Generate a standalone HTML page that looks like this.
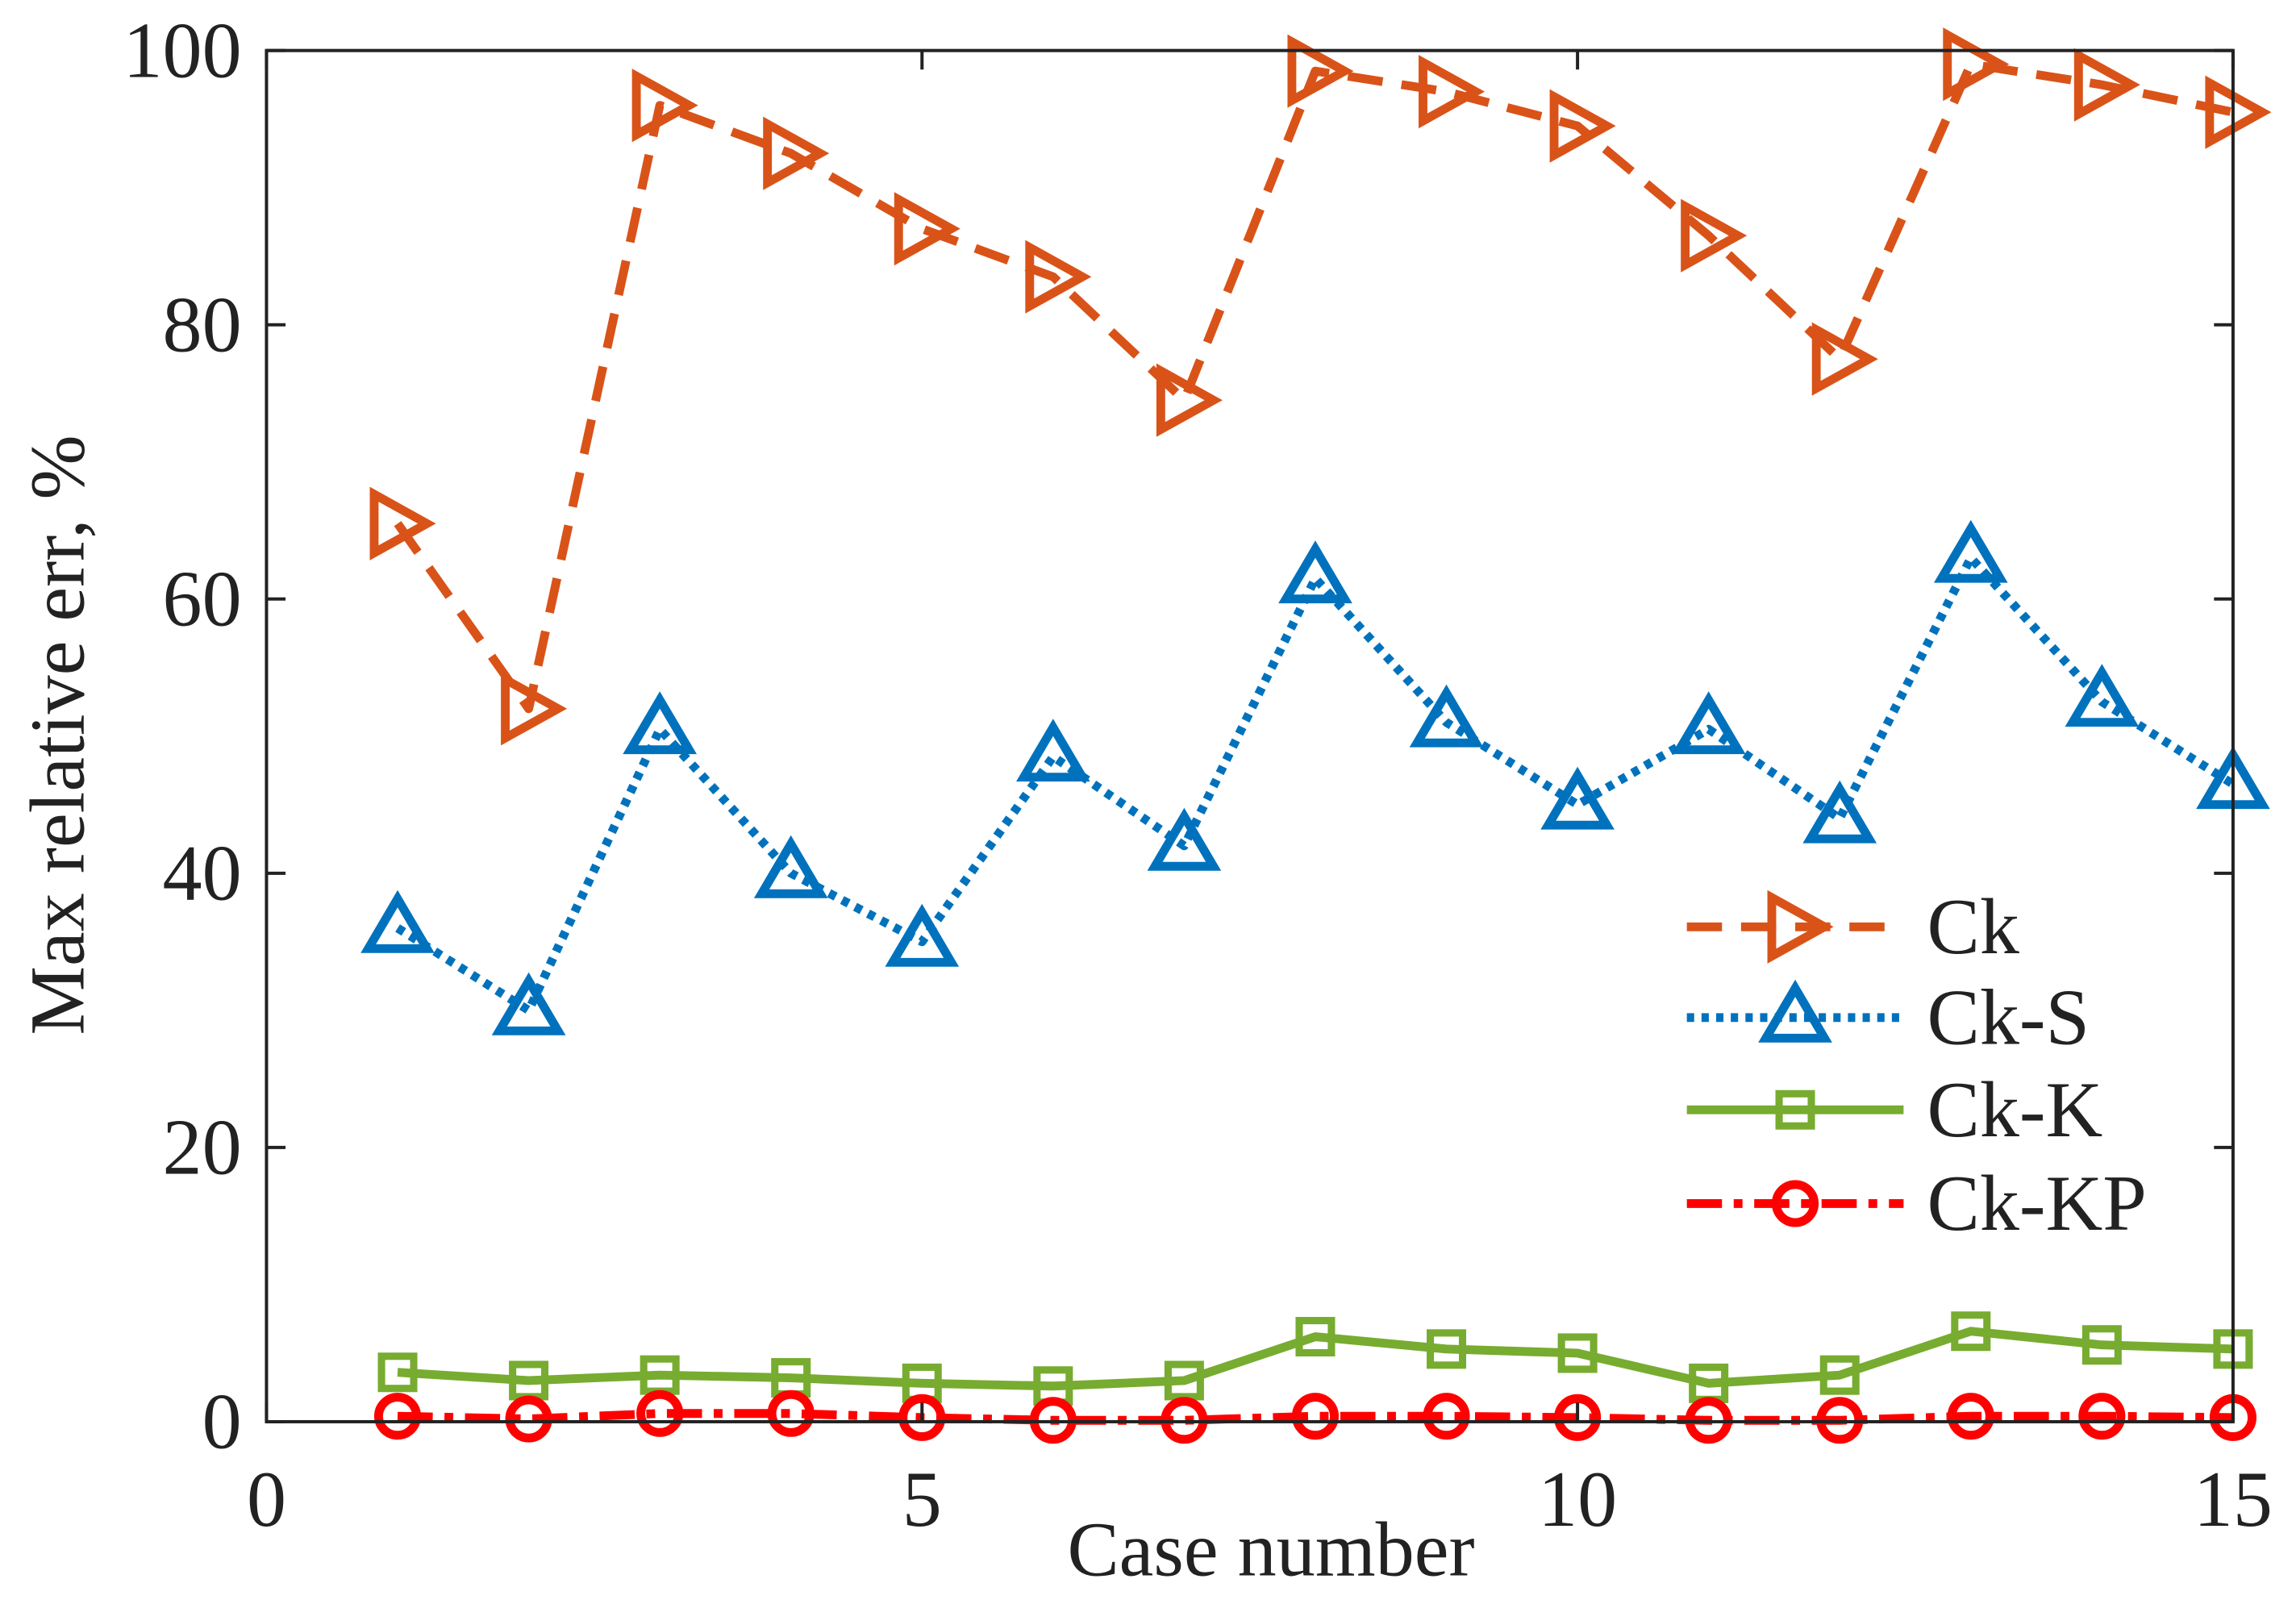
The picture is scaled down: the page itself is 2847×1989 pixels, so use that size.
<!DOCTYPE html>
<html><head><meta charset="utf-8"><style>
html,body{margin:0;padding:0;background:#fff;}
svg{display:block;}
text{font-family:"Liberation Serif",serif;fill:#222;}
</style></head><body>
<svg id="chart" width="2847" height="1989" viewBox="0 0 1568 1095.5" preserveAspectRatio="none" xmlns="http://www.w3.org/2000/svg">
<g id="marks"></g>
<g id="axes"></g>
<g id="legend"></g>
</svg>
<script>
const cases=[1,2,3,4,5,6,7,8,9,10,11,12,13,14,15];
const ck=[65.5,52,96,92.5,87,83.5,74.5,98.5,97,94.5,86.5,77.5,99,97.5,95.5];
const ckS=[36,30,50.5,40,35,48.5,42,61.5,51,45,50.5,44,63,52.5,46.5];
const ckK=[3.6,3,3.4,3.2,2.8,2.6,3,6.2,5.3,5,2.8,3.4,6.6,5.6,5.3];
const ckKP=[0.4,0.2,0.6,0.6,0.3,0.1,0.1,0.4,0.4,0.3,0.1,0.1,0.4,0.4,0.3];
const xTicks=[0,5,10,15];
const yTicks=[0,20,40,60,80,100];
const seriesNames=["Ck","Ck-S","Ck-K","Ck-KP"];

const NS="http://www.w3.org/2000/svg";
const L=182,R=1525,T=34.5,B=971;
const xs=v=>L+(v-0)/(15-0)*(R-L);
const ys=v=>B-(v-0)/(100-0)*(B-T);
function mk(tag,attrs,parent){const e=document.createElementNS(NS,tag);for(const k in attrs)e.setAttribute(k,attrs[k]);parent.appendChild(e);return e;}
const marks=document.getElementById('marks'),axes=document.getElementById('axes'),legend=document.getElementById('legend');

const styles=[
 {data:ck,color:"#D95319",dash:"24 13",marker:"tri-right",name:"ck"},
 {data:ckS,color:"#0072BD",dash:"5 5",marker:"tri-up",name:"ck-s"},
 {data:ckK,color:"#77AC30",dash:"",marker:"square",name:"ck-k"},
 {data:ckKP,color:"#FF0000",dash:"24 8 6 8",marker:"circle",name:"ck-kp"}
];
function marker(type,x,y,color,parent){
 let e;
 if(type==="tri-right") e=mk('polygon',{points:`${x-16},${y-20} ${x+20},${y} ${x-16},${y+20}`},parent);
 else if(type==="tri-up") e=mk('polygon',{points:`${x},${y-20} ${x+20},${y+14} ${x-20},${y+14}`},parent);
 else if(type==="square") e=mk('rect',{x:x-11,y:y-11,width:22,height:22},parent);
 else e=mk('circle',{cx:x,cy:y,r:13},parent);
 e.setAttribute('fill','none');e.setAttribute('stroke',color);e.setAttribute('stroke-width',type==="square"?5:6);
 return e;
}
[2,3,1,0].forEach(i=>{
 const s=styles[i];
 const g=mk('g',{},marks);
 
 
 const pts=s.data.map((v,j)=>xs(cases[j])+","+ys(v)).join(" ");
 const pl=mk('polyline',{points:pts,fill:'none',stroke:s.color,'stroke-width':6,'stroke-dasharray':s.dash,'stroke-linejoin':'round'},g);
 
 
 s.data.forEach((v,j)=>{
  const m=marker(s.marker,xs(cases[j]),ys(v),s.color,g);
  
  
 });
});
const box=mk('rect',{x:L,y:T,width:R-L,height:B-T,fill:'none',stroke:'#222','stroke-width':2.2},axes);


xTicks.forEach(t=>{
 const x=xs(t);
 mk('line',{x1:x,y1:B,x2:x,y2:B-13,stroke:'#222','stroke-width':2.2},axes);
 mk('line',{x1:x,y1:T,x2:x,y2:T+13,stroke:'#222','stroke-width':2.2},axes);
 const tx=mk('text',{x:x,y:1042,'text-anchor':'middle','font-size':54},axes);
 tx.textContent=t;
 
 
});
yTicks.forEach(t=>{
 const y=ys(t);
 mk('line',{x1:L,y1:y,x2:L+13,y2:y,stroke:'#222','stroke-width':2.2},axes);
 mk('line',{x1:R,y1:y,x2:R-13,y2:y,stroke:'#222','stroke-width':2.2},axes);
 const tx=mk('text',{x:165,y:y+18,'text-anchor':'end','font-size':54},axes);
 tx.textContent=t;
 
 
});
const xl=mk('text',{x:868,y:1076,'text-anchor':'middle','font-size':53},axes);
xl.textContent="Case number";


const yl=mk('text',{x:0,y:0,'text-anchor':'middle','font-size':53,transform:'translate(57,502) rotate(-90)'},axes);
yl.textContent="Max relative err, %";


const rowsY=[633,695,758,822];
styles.forEach((s,i)=>{
 const g=mk('g',{},legend);
 
 
 const y=rowsY[i];
 mk('line',{x1:1152,y1:y,x2:1300,y2:y,stroke:s.color,'stroke-width':6,'stroke-dasharray':s.dash},g);
 marker(s.marker,1226,y,s.color,g);
 const tx=mk('text',{x:1316,y:y+18,'font-size':54},g);
 tx.textContent=seriesNames[i];
});
</script>
</body></html>
